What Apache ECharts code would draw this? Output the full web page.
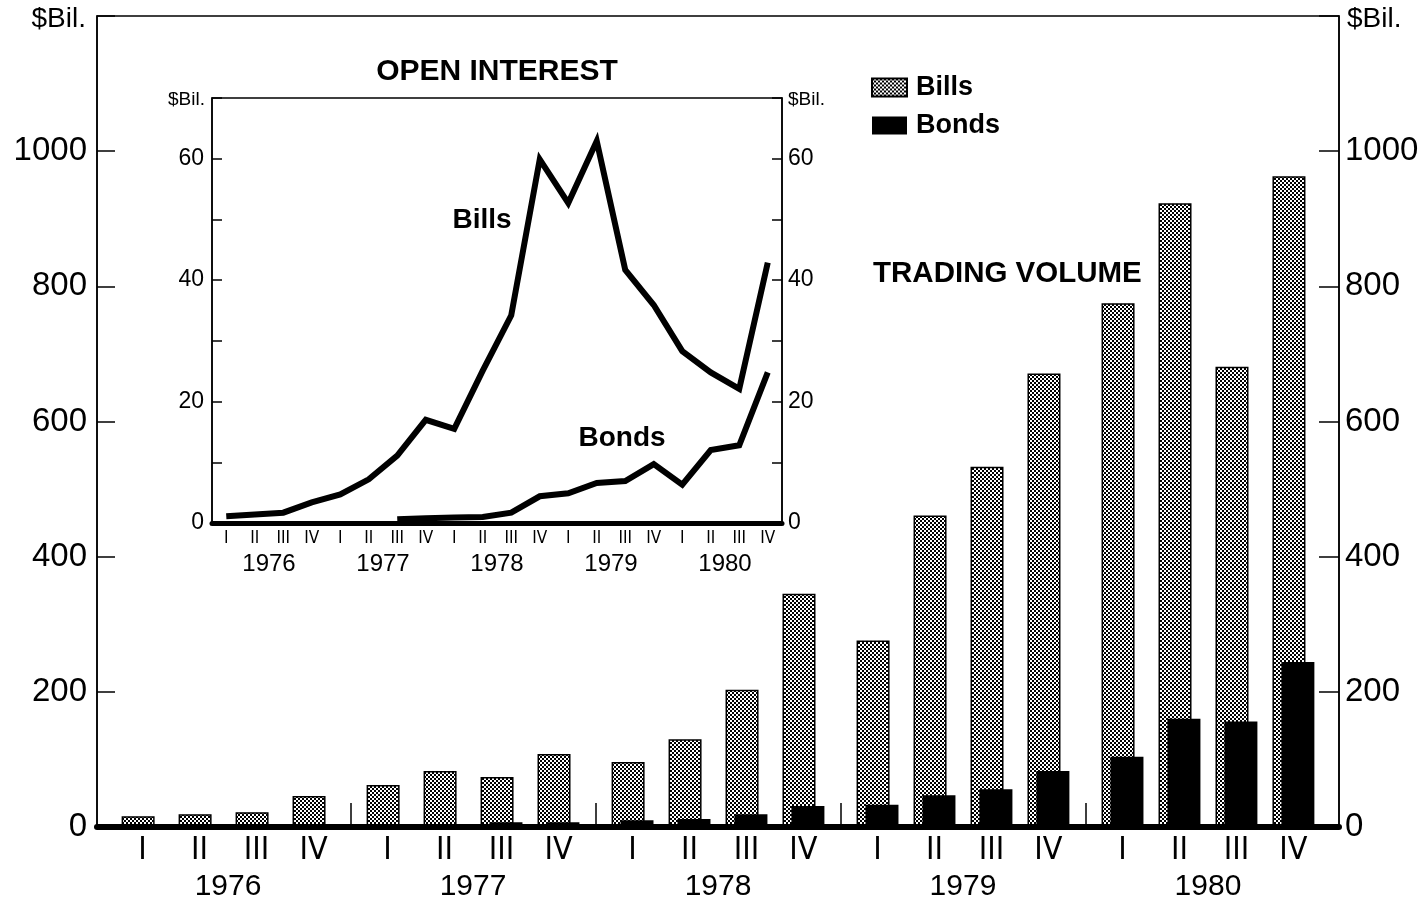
<!DOCTYPE html>
<html>
<head>
<meta charset="utf-8">
<script src="https://cdn.jsdelivr.net/npm/echarts@6/dist/echarts.min.js"></script>
<style>
  html, body { margin: 0; background: #fff; }
  #main { width: 1427px; height: 907px; }
</style>
</head>
<body>
<div id="main"></div>
<script>
// quarters and years on both charts
const quarters = ['I', 'II', 'III', 'IV']
const years = ['1976', '1977', '1978', '1979', '1980']

// trading volume, $ billions per quarter (1976 I .. 1980 IV)
const billsVolume = [16, 19, 22, 46, 62, 83, 74, 108, 96, 130, 203, 345, 276, 461, 533, 671, 775, 923, 681, 963]
const bondsVolume = [0, 0, 0, 0, 0, 0, 7, 7, 10, 12, 19, 31, 33, 47, 56, 83, 104, 160, 156, 244]

// open interest, $ billions
const billsOpen = [1.1, 1.4, 1.7, 3.4, 4.7, 7.2, 11.1, 17.0, 15.5, 25.1, 34.2, 59.9, 52.7, 62.9, 41.7, 35.9, 28.3, 24.8, 22.1, 42.9]
const bondsOpen = [null, null, null, null, null, null, 0.6, 0.8, 0.9, 1.0, 1.7, 4.4, 4.9, 6.6, 6.9, 9.7, 6.3, 12.0, 12.8, 24.8]

const volumeTicks = [0, 200, 400, 600, 800, 1000]
const openTicks = [0, 20, 40, 60]

// x layout of the volume chart: a quarter is 10 units, years are split by a 3 unit gap
const SLOT = 10
const YEAR_GAP = 3
const YEAR_W = 4 * SLOT + YEAR_GAP

const FONT = "'Liberation Sans', Arial, Helvetica, sans-serif"
const NARROW = "'Liberation Sans Narrow', 'DejaVu Sans Condensed', 'Liberation Sans', sans-serif"

let pos = [], quarterLabels = [], labelByPos = {}
years.forEach((y, yi) => {
    quarters.forEach((q, qi) => {
        let p = yi * YEAR_W + qi * SLOT
        pos.push(p)
        quarterLabels.push(q)
        labelByPos[p] = q
    })
})
let yearCenters = years.map((y, yi) => yi * YEAR_W + 1.5 * SLOT)
let yearByPos = {}
years.forEach((y, yi) => { yearByPos[yearCenters[yi]] = y })
let separators = years.slice(1).map((y, yi) => yi * YEAR_W + 3 * SLOT + (SLOT + YEAR_GAP) / 2)

// stipple fill for the bills bars
function stipple() {
    let c = document.createElement('canvas')
    c.width = 4
    c.height = 4
    let ctx = c.getContext('2d')
    ctx.fillStyle = '#fff'
    ctx.fillRect(0, 0, 4, 4)
    ctx.fillStyle = '#000'
    ctx.fillRect(0, 0, 2, 2)
    ctx.fillRect(2, 2, 2, 2)
    return c
}
const dots = { image: stipple(), repeat: 'repeat' }

let option = {
    animation: false,
    backgroundColor: '#fff',
    textStyle: { fontFamily: FONT, color: '#000' },
    title: [
        { text: 'OPEN INTEREST', left: 497, top: 72, textAlign: 'center', textVerticalAlign: 'middle', padding: 0,
          textStyle: { fontFamily: FONT, fontWeight: 'bold', fontSize: 30, color: '#000' } },
        { text: 'TRADING VOLUME', left: 873, top: 274, textVerticalAlign: 'middle', padding: 0,
          textStyle: { fontFamily: FONT, fontWeight: 'bold', fontSize: 29.5, color: '#000' } },
        { text: 'Bills', left: 482, top: 220, textAlign: 'center', textVerticalAlign: 'middle', padding: 0,
          textStyle: { fontFamily: FONT, fontWeight: 'bold', fontSize: 28, color: '#000' } },
        { text: 'Bonds', left: 622, top: 438, textAlign: 'center', textVerticalAlign: 'middle', padding: 0,
          textStyle: { fontFamily: FONT, fontWeight: 'bold', fontSize: 28, color: '#000' } }
    ],
    legend: {
        data: ['Bills', 'Bonds'],
        orient: 'vertical',
        left: 871,
        top: 74,
        padding: 0,
        itemWidth: 35,
        itemHeight: 18,
        itemGap: 11,
        icon: 'rect',
        selectedMode: false,
        textStyle: { fontFamily: FONT, fontWeight: 'bold', fontSize: 27, color: '#000', padding: [0, 0, 0, 4] }
    },
    grid: [
        { left: 97, right: 88, top: 16, bottom: 80, show: true, borderColor: '#000', borderWidth: 1.5 },
        { left: 212, right: 645, top: 98, bottom: 384, show: true, borderColor: '#000', borderWidth: 1.5, backgroundColor: '#fff' }
    ],
    xAxis: [
        {
            type: 'value', gridIndex: 0, position: 'bottom', min: -8, max: 210, z: 10,
            splitLine: { show: false },
            axisLine: { onZero: false, lineStyle: { color: '#000', width: 6 } },
            axisTick: { customValues: separators, inside: true, length: 24, lineStyle: { color: '#000', width: 1.5 } },
            axisLabel: {
                customValues: pos, margin: 8, fontFamily: NARROW, fontSize: 32, color: '#000',
                formatter: v => labelByPos[Math.round(v)] || ''
            }
        },
        {
            type: 'value', gridIndex: 0, position: 'bottom', min: -8, max: 210,
            splitLine: { show: false }, axisLine: { show: false, onZero: false }, axisTick: { show: false },
            axisLabel: {
                customValues: yearCenters, margin: 45, fontSize: 30, color: '#000',
                formatter: v => yearByPos[Math.round(v * 10) / 10] || ''
            }
        },
        {
            type: 'category', gridIndex: 1, position: 'bottom', data: quarterLabels, z: 10,
            axisLine: { onZero: false, lineStyle: { color: '#000', width: 5 } },
            axisTick: { inside: true, alignWithLabel: true, length: 11, lineStyle: { color: '#000', width: 1.5 } },
            axisLabel: { interval: 0, margin: 7, fontFamily: NARROW, fontSize: 17, color: '#000' }
        },
        {
            type: 'category', gridIndex: 1, position: 'bottom', data: years,
            axisLine: { show: false, onZero: false }, axisTick: { show: false },
            axisLabel: { interval: 0, margin: 29, fontSize: 24, color: '#000' }
        }
    ],
    yAxis: [
        {
            type: 'value', gridIndex: 0, position: 'left', min: 0, max: 1200, interval: 200,
            name: '$Bil.', nameLocation: 'end', nameGap: -3,
            nameTextStyle: { fontSize: 28, color: '#000', align: 'right', verticalAlign: 'middle', padding: [0, 11, 0, 0] },
            splitLine: { show: false },
            axisLine: { show: true, onZero: false, lineStyle: { color: '#000', width: 1.5 } },
            axisTick: { show: true, inside: true, length: 18, lineStyle: { color: '#000', width: 1.5 } },
            axisLabel: { fontSize: 33, color: '#000', margin: 10,
                formatter: v => volumeTicks.includes(v) ? String(v) : '' }
        },
        {
            type: 'value', gridIndex: 0, position: 'right', min: 0, max: 1200, interval: 200,
            name: '$Bil.', nameLocation: 'end', nameGap: -3,
            nameTextStyle: { fontSize: 28, color: '#000', align: 'left', verticalAlign: 'middle', padding: [0, 0, 0, 8] },
            splitLine: { show: false },
            axisLine: { show: true, onZero: false, lineStyle: { color: '#000', width: 1.5 } },
            axisTick: { show: true, inside: true, length: 20, lineStyle: { color: '#000', width: 1.5 } },
            axisLabel: { fontSize: 33, color: '#000', margin: 6,
                formatter: v => volumeTicks.includes(v) ? String(v) : '' }
        },
        {
            type: 'value', gridIndex: 1, position: 'left', min: 0, max: 70, interval: 10,
            name: '$Bil.', nameLocation: 'end', nameGap: -2,
            nameTextStyle: { fontSize: 19, color: '#000', align: 'right', verticalAlign: 'middle', padding: [0, 7, 0, 0] },
            splitLine: { show: false },
            axisLine: { show: true, onZero: false, lineStyle: { color: '#000', width: 1.5 } },
            axisTick: { show: true, inside: true, length: 10, lineStyle: { color: '#000', width: 1.5 } },
            axisLabel: { fontSize: 23, color: '#000', margin: 8,
                formatter: v => openTicks.includes(v) ? String(v) : '' }
        },
        {
            type: 'value', gridIndex: 1, position: 'right', min: 0, max: 70, interval: 10,
            name: '$Bil.', nameLocation: 'end', nameGap: -2,
            nameTextStyle: { fontSize: 19, color: '#000', align: 'left', verticalAlign: 'middle', padding: [0, 0, 0, 6] },
            splitLine: { show: false },
            axisLine: { show: true, onZero: false, lineStyle: { color: '#000', width: 1.5 } },
            axisTick: { show: true, inside: true, length: 10, lineStyle: { color: '#000', width: 1.5 } },
            axisLabel: { fontSize: 23, color: '#000', margin: 6,
                formatter: v => openTicks.includes(v) ? String(v) : '' }
        }
    ],
    series: [
        {
            name: 'Bills', type: 'bar', xAxisIndex: 0, yAxisIndex: 0,
            barWidth: 33, barGap: '-73%',
            itemStyle: { color: dots, borderColor: '#000', borderWidth: 1.5 },
            data: pos.map((p, i) => [p, billsVolume[i]])
        },
        {
            name: 'Bonds', type: 'bar', xAxisIndex: 0, yAxisIndex: 0,
            barWidth: 33, barGap: '-73%',
            itemStyle: { color: '#000' },
            data: pos.map((p, i) => [p, bondsVolume[i]])
        },
        {
            name: 'Bills open interest', type: 'line', xAxisIndex: 2, yAxisIndex: 2,
            symbol: 'none', z: 5,
            lineStyle: { color: '#000', width: 6, join: 'miter', cap: 'butt' },
            data: billsOpen
        },
        {
            name: 'Bonds open interest', type: 'line', xAxisIndex: 2, yAxisIndex: 2,
            symbol: 'none', z: 5,
            lineStyle: { color: '#000', width: 6, join: 'miter', cap: 'butt' },
            data: bondsOpen
        }
    ]
}

let myChart = echarts.init(document.getElementById('main'), null, { renderer: 'canvas' })
myChart.setOption(option)
</script>
</body>
</html>
